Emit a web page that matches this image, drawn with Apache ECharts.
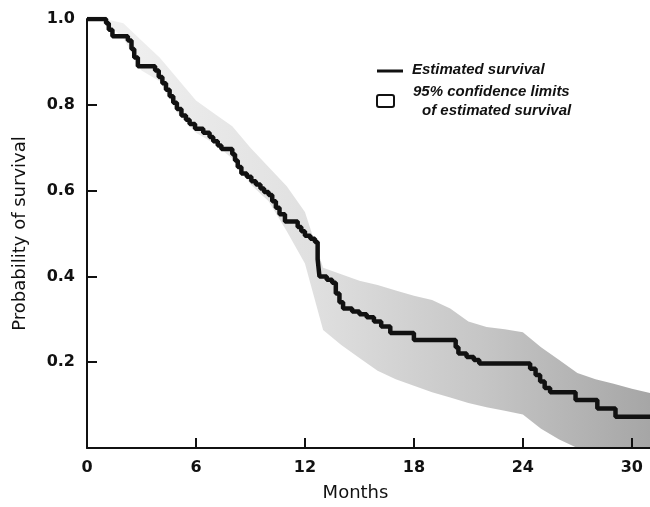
<!DOCTYPE html>
<html>
<head>
<meta charset="utf-8">
<script src="https://cdn.jsdelivr.net/npm/echarts@6/dist/echarts.min.js"></script>
<style>
  html, body { margin: 0; padding: 0; background: #fff; }
  #chart { width: 650px; height: 507px; }
</style>
</head>
<body>
<div id="chart"></div>
<script>
// Kaplan-Meier estimate: month of each drop and survival after it
const kmMonths = [0, 1.05, 1.2, 1.4, 2.25, 2.45, 2.6, 2.8, 3.75, 3.95, 4.15, 4.35, 4.55, 4.75, 4.95, 5.2, 5.45, 5.65, 5.95,
  6.4, 6.75, 6.95, 7.2, 7.4, 8.0, 8.15, 8.3, 8.5, 8.8, 9.05, 9.3, 9.55, 9.75, 10.0, 10.2, 10.4, 10.6, 10.9,
  11.6, 11.8, 12.0, 12.3, 12.55, 12.7, 12.8, 13.2, 13.5, 13.7, 13.9, 14.1, 14.6, 15.0, 15.4, 15.8, 16.2, 16.7,
  18.0, 20.3, 20.45, 20.9, 21.3, 21.6, 24.4, 24.7, 24.95, 25.2, 25.5, 26.9, 28.1, 29.1, 31];
const kmSurvival = [1.0, 0.99, 0.975, 0.96, 0.95, 0.93, 0.91, 0.89, 0.88, 0.865, 0.85, 0.835, 0.82, 0.805, 0.79, 0.775, 0.765, 0.755, 0.744,
  0.735, 0.725, 0.715, 0.705, 0.697, 0.685, 0.67, 0.655, 0.64, 0.632, 0.622, 0.614, 0.605, 0.597, 0.59, 0.575, 0.56, 0.545, 0.528,
  0.515, 0.505, 0.495, 0.488, 0.48, 0.44, 0.40, 0.392, 0.385, 0.36, 0.34, 0.325, 0.318, 0.312, 0.305, 0.295, 0.283, 0.268,
  0.252, 0.235, 0.22, 0.212, 0.205, 0.197, 0.185, 0.17, 0.155, 0.14, 0.13, 0.112, 0.092, 0.073, 0.073];

// 95% confidence limits
const bandMonths = [0, 1, 2, 3, 4, 5, 6, 7, 8, 9, 10, 11, 12, 13, 14, 15, 16, 17, 18, 19, 20, 21, 22, 23, 24, 25, 26, 27, 28, 29, 30, 31];
const bandUpper = [1.0, 1.0, 0.99, 0.95, 0.91, 0.86, 0.81, 0.78, 0.75, 0.70, 0.655, 0.61, 0.55, 0.42, 0.405, 0.39, 0.38, 0.367, 0.355, 0.345,
  0.325, 0.295, 0.282, 0.277, 0.27, 0.235, 0.205, 0.175, 0.16, 0.15, 0.138, 0.128];
const bandLower = [1.0, 0.995, 0.955, 0.88, 0.855, 0.78, 0.735, 0.71, 0.675, 0.615, 0.575, 0.505, 0.43, 0.275, 0.24, 0.21, 0.18, 0.16, 0.145, 0.13,
  0.118, 0.105, 0.095, 0.087, 0.078, 0.045, 0.02, 0, 0, 0, 0, 0];

const xTicks = [0, 6, 12, 18, 24, 30];
const yTicks = [0.2, 0.4, 0.6, 0.8, 1.0];

const chart = echarts.init(document.getElementById('chart'));

// band polygon: upper limits left to right, then lower limits back
function renderBand(params, api) {
  const pts = [];
  for (let i = 0; i < bandMonths.length; i++) {
    pts.push(api.coord([bandMonths[i], bandUpper[i]]));
  }
  for (let i = bandMonths.length - 1; i >= 0; i--) {
    pts.push(api.coord([bandMonths[i], bandLower[i]]));
  }
  return {
    type: 'polygon',
    shape: { points: pts },
    style: {
      fill: new echarts.graphic.LinearGradient(87, 0, 650, 0, [
        { offset: 0, color: '#f2f2f2' },
        { offset: 0.4, color: '#e0e0e0' },
        { offset: 0.7, color: '#c6c6c6' },
        { offset: 1, color: '#a6a6a6' }
      ], true)
    }
  };
}

const option = {
  animation: false,
  grid: { left: 87, right: 0, top: 19, bottom: 58 },
  xAxis: {
    type: 'value',
    min: 0,
    max: 31,
    z: 10,
    name: 'Months',
    nameLocation: 'middle',
    nameGap: 36,
    nameTextStyle: { fontFamily: 'DejaVu Sans', fontSize: 18, color: '#111', padding: [0, 26, 0, 0] },
    axisLine: { lineStyle: { color: '#111', width: 2 } },
    axisTick: { inside: true, length: 10, customValues: xTicks, lineStyle: { color: '#111', width: 2 } },
    axisLabel: {
      customValues: xTicks,
      margin: 12,
      fontFamily: 'DejaVu Sans',
      fontWeight: 'bold',
      fontSize: 16,
      color: '#111'
    },
    splitLine: { show: false }
  },
  yAxis: {
    type: 'value',
    min: 0,
    max: 1,
    z: 10,
    name: 'Probability of survival',
    nameLocation: 'middle',
    nameGap: 58,
    nameTextStyle: { fontFamily: 'DejaVu Sans', fontSize: 18, color: '#111' },
    axisLine: { lineStyle: { color: '#111', width: 2 } },
    axisTick: { inside: true, length: 10, customValues: yTicks, lineStyle: { color: '#111', width: 2 } },
    axisLabel: {
      customValues: yTicks,
      margin: 12,
      fontFamily: 'DejaVu Sans',
      fontWeight: 'bold',
      fontSize: 16,
      color: '#111',
      formatter: function(v) { return v.toFixed(1); }
    },
    splitLine: { show: false }
  },
  graphic: {
    elements: [
      { type: 'line', z: 20, shape: { x1: 377, y1: 71, x2: 403, y2: 71 }, style: { stroke: '#111', lineWidth: 3 } },
      { type: 'text', z: 20, x: 412, y: 62, style: { text: 'Estimated survival', font: 'italic bold 15px "Liberation Sans"', fill: '#111' } },
      { type: 'rect', z: 20, shape: { x: 377, y: 95, width: 17, height: 12, r: 2 }, style: { fill: '#fff', stroke: '#111', lineWidth: 2 } },
      { type: 'text', z: 20, x: 413, y: 84, style: { text: '95% confidence limits', font: 'italic bold 15px "Liberation Sans"', fill: '#111' } },
      { type: 'text', z: 20, x: 422, y: 103, style: { text: 'of estimated survival', font: 'italic bold 15px "Liberation Sans"', fill: '#111' } }
    ]
  },
  series: [
    {
      name: '95% confidence limits',
      type: 'custom',
      silent: true,
      z: 1,
      renderItem: renderBand,
      data: [0]
    },
    {
      name: 'Estimated survival',
      type: 'line',
      step: 'end',
      symbol: 'none',
      z: 5,
      lineStyle: { color: '#111', width: 4.5 },
      data: kmMonths.map(function(m, i) { return [m, kmSurvival[i]]; })
    }
  ]
};

chart.setOption(option);
</script>
</body>
</html>
